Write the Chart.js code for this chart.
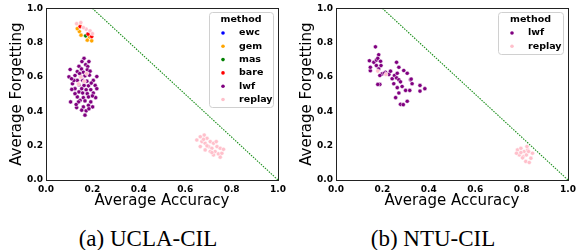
<!DOCTYPE html>
<html>
<head>
<meta charset="utf-8">
<script src="https://cdn.jsdelivr.net/npm/chart.js@4"></script>
<style>
  body { margin: 0; background: #fff; width: 580px; height: 250px; position: relative; overflow: hidden; }
  canvas { position: absolute; top: 0; }
  .cap { position: absolute; top: 227px; width: 290px; text-align: center; font-family: "Liberation Serif", "DejaVu Serif", serif; font-size: 23px; line-height: 23px; color: #000; }
</style>
</head>
<body>
<canvas id="ucla" width="290" height="215" style="left:0"></canvas>
<canvas id="ntu" width="290" height="215" style="left:290px"></canvas>
<div class="cap" style="left:3px">(a) UCLA-CIL</div>
<div class="cap" style="left:288px">(b) NTU-CIL</div>
<script>
// method names + colours (seaborn hue order)
const methods = ['ewc', 'gem', 'mas', 'bare', 'lwf', 'replay'];
const methodColors = ['#0000ff', '#ffa500', '#008000', '#ff0000', '#800080', '#ffc0cb'];
const tickValues = [0.0, 0.2, 0.4, 0.6, 0.8, 1.0];

// reference line: accuracy + forgetting bound
const boundAcc = [0.2, 1.0];
const boundForg = [1.0, 0.0];

// UCLA-CIL
const uclaEwcAcc = [0.181];
const uclaEwcForg = [0.850];
const uclaGemAcc = [0.144, 0.151, 0.135, 0.187, 0.197, 0.178, 0.147];
const uclaGemForg = [0.865, 0.844, 0.882, 0.834, 0.811, 0.815, 0.898];
const uclaMasAcc = [0.171];
const uclaMasForg = [0.840];
const uclaBareAcc = [0.147, 0.181, 0.197];
const uclaBareForg = [0.894, 0.850, 0.836];
const uclaLwfAcc = [0.164,0.104,0.142,0.171,0.180,0.153,0.135,0.161,0.178,0.190,0.125,0.099,0.150,0.168,0.187,0.219,0.135,0.158,0.176,0.204,0.114,0.142,0.164,0.183,0.212,0.125,0.154,0.173,0.193,0.219,0.142,0.158,0.178,0.204,0.135,0.161,0.183,0.214,0.147,0.168,0.193,0.132,0.161,0.183,0.201,0.154,0.173,0.168,0.106,0.125,0.111,0.140,0.155,0.185,0.120,0.195,0.145,0.200,0.130,0.185,0.110];
const uclaLwfForg = [0.709,0.644,0.663,0.672,0.661,0.647,0.632,0.628,0.642,0.634,0.609,0.601,0.603,0.607,0.611,0.603,0.580,0.580,0.576,0.580,0.561,0.555,0.551,0.549,0.551,0.532,0.532,0.526,0.526,0.532,0.513,0.507,0.503,0.507,0.484,0.480,0.484,0.480,0.464,0.461,0.455,0.422,0.426,0.435,0.426,0.407,0.403,0.378,0.455,0.503,0.528,0.455,0.690,0.690,0.580,0.565,0.620,0.490,0.440,0.415,0.590];
const uclaReplayAcc = [0.132,0.150,0.173,0.190,0.161,0.200,0.150,0.165,0.175,0.140,0.650,0.665,0.682,0.694,0.672,0.686,0.708,0.722,0.701,0.715,0.737,0.751,0.729,0.743,0.758,0.708,0.686,0.722,0.751,0.665,0.694,0.734,0.765,0.679,0.715];
const uclaReplayForg = [0.911,0.917,0.879,0.869,0.888,0.853,0.600,0.575,0.620,0.560,0.233,0.252,0.262,0.243,0.224,0.214,0.224,0.214,0.195,0.185,0.195,0.185,0.166,0.152,0.156,0.166,0.175,0.146,0.133,0.195,0.199,0.224,0.179,0.237,0.160];

// NTU-CIL
const ntuLwfAcc = [0.170,0.144,0.148,0.148,0.163,0.174,0.184,0.180,0.192,0.174,0.194,0.184,0.199,0.189,0.189,0.180,0.213,0.228,0.235,0.242,0.252,0.264,0.261,0.271,0.261,0.271,0.249,0.278,0.292,0.307,0.321,0.328,0.324,0.264,0.285,0.300,0.271,0.257,0.307,0.278,0.290,0.318,0.362,0.362,0.383,0.209];
const ntuLwfForg = [0.776,0.695,0.637,0.657,0.686,0.699,0.730,0.709,0.692,0.667,0.667,0.647,0.618,0.609,0.557,0.557,0.628,0.615,0.634,0.590,0.609,0.622,0.686,0.657,0.595,0.584,0.561,0.572,0.638,0.622,0.584,0.561,0.588,0.538,0.545,0.522,0.507,0.480,0.459,0.441,0.439,0.522,0.551,0.518,0.532,0.622];
const ntuReplayAcc = [0.782,0.797,0.811,0.826,0.790,0.808,0.821,0.840,0.818,0.833,0.804,0.847,0.778,0.823,0.797,0.830,0.180,0.215];
const ntuReplayForg = [0.175,0.185,0.166,0.175,0.146,0.137,0.146,0.127,0.108,0.102,0.129,0.156,0.156,0.195,0.160,0.166,0.635,0.615];

function zip(xs, ys) {
  return xs.map((x, i) => ({ x: x, y: ys[i] }));
}

function scatterSet(name, xs, ys) {
  const c = methodColors[methods.indexOf(name)];
  return {
    type: 'scatter',
    label: name,
    data: zip(xs, ys),
    backgroundColor: c,
    borderColor: '#ffffff',
    borderWidth: 0.5,
    pointRadius: 2.1,
    pointHoverRadius: 2.1
  };
}

function boundSet() {
  return {
    type: 'line',
    label: '_bound',
    data: zip(boundAcc, boundForg),
    borderColor: '#1a8f1a',
    borderWidth: 1.1,
    borderDash: [1.5, 1.2],
    pointRadius: 0,
    fill: false
  };
}

// frame + legend box drawn on the canvas
const framePlugin = {
  id: 'frameBox',
  afterDatasetsDraw(chart, args, opts) {
    const { ctx, chartArea: a } = chart;
    ctx.save();
    ctx.strokeStyle = '#222';
    ctx.lineWidth = 1;
    ctx.strokeRect(Math.round(a.left) + 0.5, Math.round(a.top) + 0.5, Math.round(a.right - a.left), Math.round(a.bottom - a.top));

    // legend
    const L = opts.legend;
    ctx.fillStyle = 'rgba(255,255,255,0.85)';
    ctx.strokeStyle = '#d0d0d0';
    ctx.beginPath();
    ctx.roundRect(L.x + 0.5, L.y + 0.5, L.w, L.h, 3);
    ctx.fill();
    ctx.stroke();
    ctx.fillStyle = '#000';
    ctx.font = 'bold 9.5px "DejaVu Sans"';
    ctx.textAlign = 'center';
    ctx.textBaseline = 'middle';
    ctx.fillText('method', L.x + L.w / 2, L.y + 7.5);
    ctx.textAlign = 'left';
    L.items.forEach((m, i) => {
      const y = L.y + 21 + i * 13.3;
      ctx.fillStyle = methodColors[methods.indexOf(m)];
      ctx.beginPath();
      ctx.arc(L.x + 14, y, 1.8, 0, Math.PI * 2);
      ctx.fill();
      ctx.fillStyle = '#000';
      ctx.fillText(m, L.x + 30, y);
    });
    ctx.restore();
  }
};

function axisOpts(title, isY) {
  return {
    type: 'linear',
    min: 0,
    max: 1,
    grid: { display: false, drawTicks: false, tickLength: 0 },
    border: { display: false },
    afterBuildTicks: s => { s.ticks = tickValues.map(v => ({ value: v })); },
    afterFit: s => { if (isY) s.width = 46; else s.height = 35; },
    ticks: {
      color: '#000',
      padding: isY ? 3 : 4,
      font: { family: 'DejaVu Sans', weight: 'bold', size: 9 },
      callback: v => v.toFixed(1)
    },
    title: {
      display: true,
      text: title,
      color: '#000',
      font: { family: 'DejaVu Sans', size: 15 },
      padding: isY ? { top: 8, bottom: 0 } : { top: 0, bottom: 5 }
    }
  };
}

function makeChart(id, datasets, legend) {
  new Chart(document.getElementById(id), {
    data: { datasets: datasets },
    options: {
      responsive: false,
      animation: false,
      events: [],
      layout: { padding: { top: 7, right: 12, left: 0, bottom: 0 } },
      plugins: { legend: { display: false }, tooltip: { enabled: false }, frameBox: { legend: legend } },
      scales: {
        x: axisOpts('Average Accuracy', false),
        y: axisOpts('Average Forgetting', true)
      }
    },
    plugins: [framePlugin]
  });
}

makeChart('ucla', [
  boundSet(),
  scatterSet('replay', uclaReplayAcc, uclaReplayForg),
  scatterSet('bare', uclaBareAcc, uclaBareForg),
  scatterSet('mas', uclaMasAcc, uclaMasForg),
  scatterSet('gem', uclaGemAcc, uclaGemForg),
  scatterSet('ewc', uclaEwcAcc, uclaEwcForg),
  scatterSet('lwf', uclaLwfAcc, uclaLwfForg)
], { x: 209, y: 12, w: 64, h: 95, items: methods });

makeChart('ntu', [
  boundSet(),
  scatterSet('replay', ntuReplayAcc, ntuReplayForg),
  scatterSet('lwf', ntuLwfAcc, ntuLwfForg)
], { x: 208, y: 12, w: 65, h: 42, items: ['lwf', 'replay'] });
</script>
</body>
</html>
